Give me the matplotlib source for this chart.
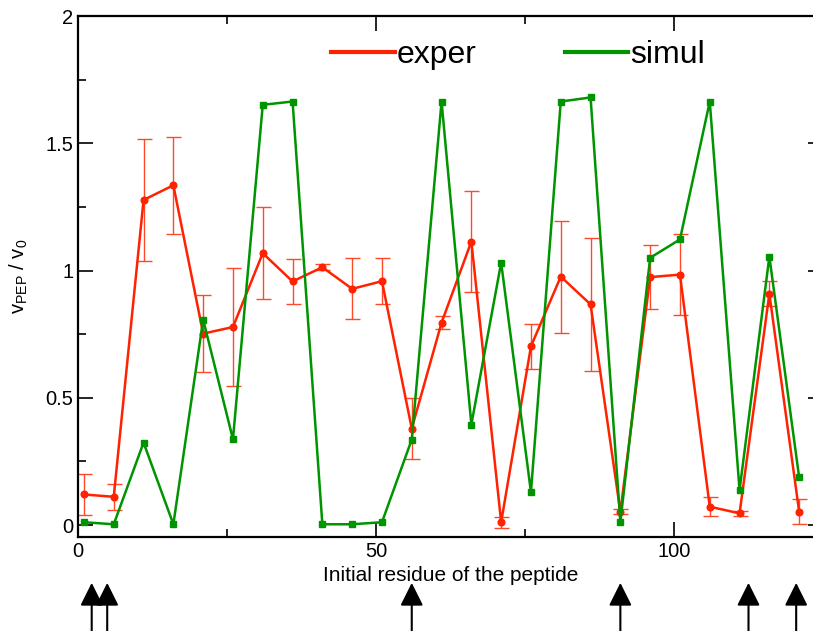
import numpy as np
import matplotlib
matplotlib.use('Agg')
import matplotlib.pyplot as plt
from matplotlib.lines import Line2D

plt.rcParams['font.family'] = ['Liberation Sans', 'DejaVu Sans']
plt.rcParams['mathtext.fontset'] = 'custom'
plt.rcParams['mathtext.rm'] = 'Liberation Sans'
plt.rcParams['mathtext.it'] = 'Liberation Sans'

# residuo inicial de cada peptido
residuos = [1, 6, 11, 16, 21, 26, 31, 36, 41, 46, 51, 56, 61, 66, 71, 76, 81, 86, 91, 96, 101, 106, 111, 116, 121]

# experimental (com barras de erro)
exper = [0.12, 0.111, 1.277, 1.335, 0.752, 0.778, 1.068, 0.957, 1.013, 0.928, 0.958, 0.379, 0.795,
         1.114, 0.011, 0.702, 0.976, 0.867, 0.052, 0.974, 0.984, 0.072, 0.046, 0.909, 0.052]
erro = [0.08, 0.05, 0.24, 0.19, 0.15, 0.23, 0.18, 0.09, 0.012, 0.12, 0.09, 0.12, 0.025,
        0.2, 0.022, 0.087, 0.22, 0.26, 0.01, 0.125, 0.16, 0.038, 0.01, 0.05, 0.049]

# simulacao
simul = [0.011, 0.003, 0.324, 0.003, 0.807, 0.337, 1.651, 1.664, 0.003, 0.003, 0.011, 0.336, 1.664,
         0.395, 1.031, 0.129, 1.664, 1.68, 0.011, 1.05, 1.122, 1.664, 0.137, 1.055, 0.187]

# setas por baixo do eixo
setas = [2.3, 4.9, 56.0, 91.0, 112.5, 120.5]

vermelho = '#ff2200'
verde = '#009400'

fig = plt.figure(figsize=(8.13, 6.31), dpi=100)
ax = fig.add_axes([78 / 813, 94 / 631, 745 / 813, 521 / 631])

ax.errorbar(residuos, exper, yerr=erro, fmt='none', ecolor='#ff4a2a', elinewidth=1.0,
            capsize=5.4, capthick=1.0, zorder=2)
ax.plot(residuos, exper, color=vermelho, lw=1.8, marker='o', ms=4.8, zorder=3)
ax.plot(residuos, simul, color=verde, lw=1.8, marker='s', ms=5, zorder=4)

ax.set_xlim(0, 125)
ax.set_ylim(-0.047, 2)
ax.set_xticks([0, 50, 100])
ax.set_xticks([25, 75, 125], minor=True)
ax.set_yticks([0, 0.5, 1, 1.5, 2])
ax.set_yticklabels(['0', '0.5', '1', '1.5', '2'])
ax.set_yticks([0.25, 0.75, 1.25, 1.75], minor=True)
ax.tick_params(which='both', direction='in', top=True, right=True, labelsize=14.5, width=1.2)
ax.tick_params(which='major', length=11)
ax.tick_params(which='minor', length=6)
for s in ax.spines.values():
    s.set_linewidth(1.6)

ax.set_xlabel('Initial residue of the peptide', fontsize=15, labelpad=4)
ax.set_ylabel(r'v$_\mathrm{PEP}$ / v$_\mathrm{0}$', fontsize=14.5, labelpad=11)

handles = [Line2D([], [], color=vermelho, lw=3), Line2D([], [], color=verde, lw=3)]
ax.legend(handles, ['exper', 'simul'], loc='center left', bbox_to_anchor=(0.34, 0.925),
          ncol=2, frameon=False, fontsize=23, handlelength=2.0, handletextpad=0.05,
          columnspacing=2.75, borderpad=0, borderaxespad=0)

for x in setas:
    ax.annotate('', xy=(x, -0.088), xytext=(x, -0.2), xycoords=ax.get_xaxis_transform(),
                textcoords=ax.get_xaxis_transform(), annotation_clip=False,
                arrowprops=dict(arrowstyle='-|>,head_length=1.0,head_width=0.5', color='black',
                                lw=1.5, mutation_scale=14, shrinkA=0, shrinkB=0))

fig.savefig('out.png', dpi=100)
